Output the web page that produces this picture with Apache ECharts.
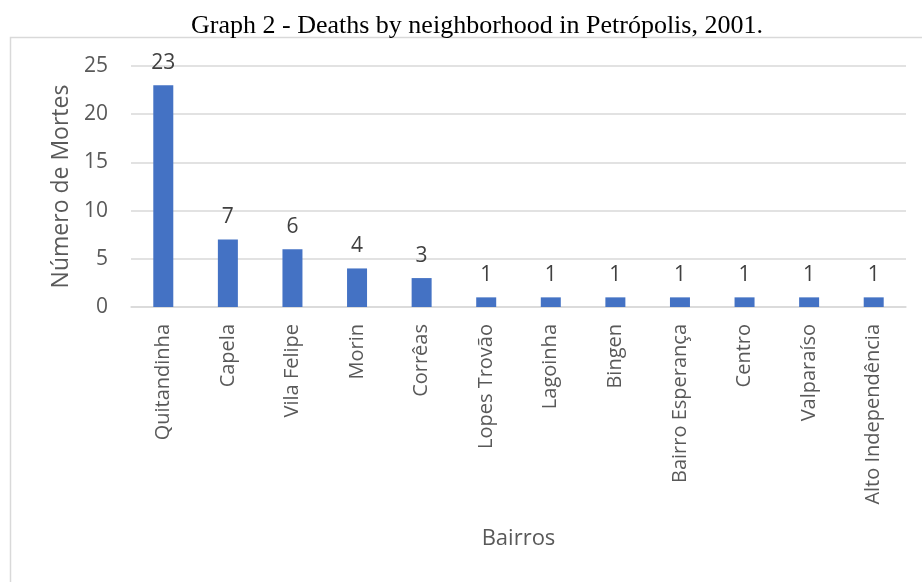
<!DOCTYPE html>
<html>
<head>
<meta charset="utf-8">
<script src="https://cdn.jsdelivr.net/npm/echarts@6/dist/echarts.min.js"></script>
<style>
  html, body { margin: 0; padding: 0; background: #fff; }
  #chart { width: 922px; height: 582px; }
</style>
</head>
<body>
<div id="chart"></div>
<script>
// Neighbourhoods (bairros) and number of deaths in each
const bairros = ['Quitandinha', 'Capela', 'Vila Felipe', 'Morin', 'Corrêas', 'Lopes Trovão',
  'Lagoinha', 'Bingen', 'Bairro Esperança', 'Centro', 'Valparaíso', 'Alto Independência'];
const mortes = [23, 7, 6, 4, 3, 1, 1, 1, 1, 1, 1, 1];
const yTicks = [0, 5, 10, 15, 20, 25];

const sans = '"Open Sans", "Noto Sans", sans-serif';
const chart = echarts.init(document.getElementById('chart'), null, { renderer: 'canvas' });

chart.setOption({
  animation: false,
  title: {
    text: 'Graph 2 - Deaths by neighborhood in Petrópolis, 2001.',
    left: 472, top: 8, textAlign: 'center',
    textStyle: { fontFamily: '"Liberation Serif", "Times New Roman", serif', fontSize: 26, fontWeight: 'normal', color: '#000' }
  },
  graphic: [{
    type: 'polyline',
    shape: { points: [[10.5, 600], [10.5, 37.5], [930, 37.5]] },
    style: { stroke: '#d9d9d9', lineWidth: 1.5, fill: null },
    silent: true
  }],
  grid: { left: 131, right: 16, top: 66, bottom: 275, containLabel: false },
  xAxis: {
    type: 'category',
    data: bairros,
    name: 'Bairros',
    nameLocation: 'middle',
    nameGap: 221,
    nameTextStyle: { fontFamily: sans, fontSize: 22, color: '#595959' },
    axisLine: { lineStyle: { color: '#d9d9d9', width: 1.5 } },
    axisTick: { show: false },
    axisLabel: { rotate: 90, margin: 17, fontFamily: sans, fontSize: 20, color: '#595959', interval: 0 }
  },
  yAxis: {
    type: 'value',
    min: yTicks[0], max: yTicks[yTicks.length - 1], interval: 5,
    name: 'Número de Mortes',
    nameLocation: 'middle',
    nameGap: 58,
    nameTextStyle: { fontFamily: sans, fontSize: 23, color: '#595959' },
    axisLine: { show: false },
    axisTick: { show: false },
    axisLabel: { margin: 23, fontFamily: sans, fontSize: 21, color: '#595959' },
    splitLine: { lineStyle: { color: '#d9d9d9', width: 1.5 } }
  },
  series: [{
    type: 'bar',
    data: mortes,
    barWidth: 20,
    itemStyle: { color: '#4472c4' },
    label: { show: true, position: 'top', distance: 12, fontFamily: sans, fontSize: 21, color: '#404040' }
  }]
});
</script>
</body>
</html>
